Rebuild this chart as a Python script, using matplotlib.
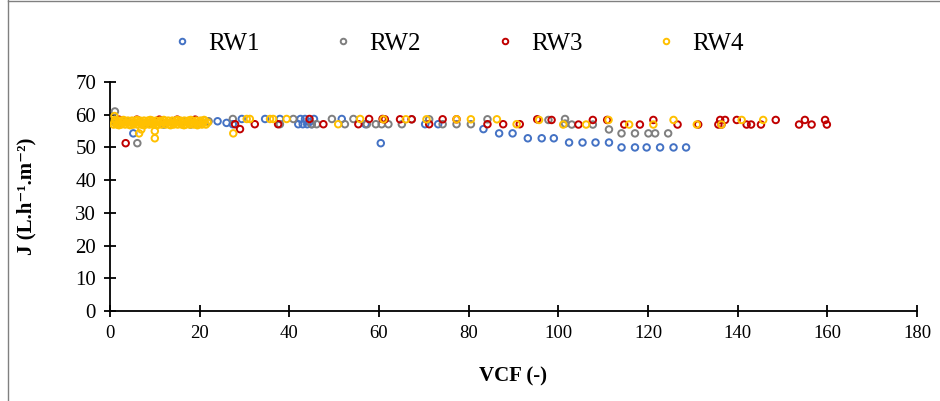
import numpy as np
import matplotlib.pyplot as plt
from matplotlib.lines import Line2D

plt.rcParams['font.family'] = ['Liberation Serif', 'DejaVu Serif']

# series data (VCF, J)
rw1_x = [1.2, 2.5, 4.0, 5.2, 8.0, 12.0, 16.0, 20.0, 24.0, 26.0, 27.4, 29.4, 34.6, 37.9,
         42.0, 42.5, 43.0, 43.5, 44.0, 44.5, 45.0, 45.5, 51.7, 57.0, 60.4, 70.3, 73.2,
         83.3, 86.8, 89.8, 93.2, 96.3, 99.0, 102.4, 105.4, 108.3, 111.3, 114.1, 117.1,
         119.7, 122.7, 125.7, 128.5]
rw1_y = [57.5, 57.5, 58.0, 54.3, 57.5, 57.0, 58.0, 57.5, 58.0, 57.5, 57.1, 58.7, 58.7, 58.7,
         57.1, 58.7, 57.1, 58.7, 57.1, 57.8, 57.1, 58.7, 58.7, 57.1, 51.3, 57.1, 57.1,
         55.6, 54.3, 54.3, 52.8, 52.8, 52.8, 51.5, 51.5, 51.5, 51.5, 50.0, 50.0,
         50.0, 50.0, 50.0, 50.0]

rw2_x = [1.1, 3.0, 6.1, 9.0, 14.0, 18.0, 22.0, 27.4, 37.9, 40.9, 45.0, 46.1, 49.5, 52.4,
         54.3, 57.3, 59.3, 60.6, 62.1, 65.1, 67.3, 71.2, 74.2, 77.3, 80.5, 84.2, 97.8,
         101.5, 101.5, 103.0, 107.7, 111.3, 114.1, 117.1, 120.1, 121.6, 124.5]
rw2_y = [61.0, 58.0, 51.3, 57.5, 58.0, 57.0, 58.0, 58.7, 57.1, 58.7, 57.1, 57.1, 58.7, 57.1,
         58.7, 57.1, 57.1, 57.1, 57.1, 57.1, 58.6, 58.6, 57.1, 57.1, 57.1, 58.6, 58.4,
         58.7, 57.3, 57.0, 57.0, 55.5, 54.3, 54.3, 54.3, 54.3, 54.3]

rw3_x = [3.5, 2.0, 6.0, 11.0, 15.0, 19.0, 27.9, 29.0, 32.3, 37.5, 44.5, 47.6, 55.4, 57.8,
         60.8, 61.3, 64.7, 67.3, 71.2, 74.2, 77.3, 84.2, 87.7, 91.4, 95.3, 98.5, 104.5,
         107.7, 110.9, 114.7, 118.2, 121.2, 126.6, 131.2, 135.7, 136.1, 136.4, 137.2,
         139.8, 142.0, 143.0, 145.2, 148.5, 153.7, 155.0, 156.5, 159.5, 159.9]
rw3_y = [51.3, 58.5, 58.5, 58.5, 58.5, 58.5, 57.1, 55.6, 57.1, 57.1, 58.7, 57.1, 57.1, 58.7,
         58.7, 58.6, 58.6, 58.6, 57.1, 58.6, 58.6, 57.1, 57.1, 57.1, 58.6, 58.4, 57.0,
         58.4, 58.4, 57.0, 57.0, 58.4, 57.0, 57.0, 57.0, 58.4, 57.0, 58.4,
         58.4, 57.0, 57.0, 57.0, 58.4, 57.0, 58.4, 57.0, 58.4, 57.0]

rw4_x = [0.8, 1.0, 1.3, 1.6, 1.9, 2.2, 2.5, 2.8, 3.1, 3.4, 3.7, 4.0, 4.3, 4.6, 4.9, 5.2,
         5.5, 5.8, 6.1, 6.4, 6.7, 7.0, 7.3, 7.6, 7.9, 8.2, 8.5, 8.8, 9.1, 9.4, 9.7, 10.0,
         10.3, 10.6, 10.9, 11.2, 11.5, 11.8, 12.1, 12.4, 12.7, 13.0, 13.3, 13.6, 13.9,
         14.2, 14.5, 14.8, 15.1, 15.4, 15.7, 16.0, 16.3, 16.6, 16.9, 17.2, 17.5, 17.8,
         18.1, 18.4, 18.7, 19.0, 19.3, 19.6, 19.9, 20.2, 20.5, 20.8, 21.1, 21.4, 21.8,
         1.1, 2.0, 3.0, 4.5, 6.0, 7.5, 9.0, 10.5, 12.0, 13.5, 15.0, 16.5, 18.0, 19.5, 21.0,
         1.0, 6.5, 7.0, 10.0, 10.0, 27.5, 30.5, 31.2, 35.7, 36.4, 39.4, 50.9, 55.8,
         61.0, 66.0, 70.6, 77.3, 80.5, 86.3, 90.7, 95.7, 101.1, 106.2, 111.2, 115.8,
         121.2, 125.7, 130.9, 136.4, 140.9, 145.7]
rw4_y = [57.0, 57.6, 58.2, 57.0, 57.6, 58.2, 57.0, 57.6, 58.2, 57.0, 57.6, 58.2, 57.0, 57.6,
         58.2, 57.0, 57.6, 58.2, 57.0, 57.6, 58.2, 57.0, 57.6, 58.2, 57.0, 57.6, 58.2, 57.0,
         57.6, 58.2, 57.0, 57.6, 58.2, 57.0, 57.6, 58.2, 57.0, 57.6, 58.2, 57.0, 57.6, 58.2,
         57.0, 57.6, 58.2, 57.0, 57.6, 58.2, 57.0, 57.6, 58.2, 57.0, 57.6, 58.2, 57.0, 57.6,
         58.2, 57.0, 57.6, 58.2, 57.0, 57.6, 58.2, 57.0, 57.6, 58.2, 57.0, 57.6, 58.2, 57.0,
         57.6,
         58.4, 56.8, 58.4, 56.8, 58.4, 56.8, 58.4, 56.8, 58.4, 56.8, 58.4, 56.8, 58.4, 56.8, 58.4,
         59.6, 54.3, 55.5, 55.0, 52.8, 54.3, 58.7, 58.7, 58.7, 58.7, 58.7, 57.1, 58.7,
         58.6, 58.6, 58.6, 58.6, 58.6, 58.6, 57.1, 58.4, 57.0, 57.0, 58.4, 57.0,
         57.0, 58.4, 57.0, 57.0, 58.4, 58.4]

names = ['RW1', 'RW2', 'RW3', 'RW4']
colors = ['#4472C4', '#7F7F7F', '#C00000', '#FFC000']

fig = plt.figure(figsize=(9.4, 4.01), dpi=100)
ax = fig.add_axes([0.117, 0.2244, 0.8585, 0.5711])

series = [(rw1_x, rw1_y), (rw2_x, rw2_y), (rw3_x, rw3_y), (rw4_x, rw4_y)]
for (xs, ys), c in zip(series, colors):
    ax.scatter(xs, ys, s=22, facecolors='none', edgecolors=c, linewidths=1.4, zorder=3)

ax.set_xlim(0, 180)
ax.set_ylim(0, 70)
ax.set_xticks(np.arange(0, 181, 20))
ax.set_yticks(np.arange(0, 71, 10))
ax.spines['top'].set_visible(False)
ax.spines['right'].set_visible(False)
ax.spines['left'].set_linewidth(1.3)
ax.spines['bottom'].set_linewidth(1.3)
ax.tick_params(direction='inout', length=8, width=1.3, pad=6)
ax.tick_params(axis='y', labelsize=15)
ax.tick_params(axis='x', labelsize=13.5)

ax.set_xlabel('VCF (-)', fontsize=15, fontweight='bold', labelpad=18)
ax.set_ylabel('J (L.h\u207b\u00b9.m\u207b\u00b2)', fontsize=15,
              fontweight='bold', labelpad=28)

handles = [Line2D([], [], marker='o', linestyle='none', markersize=4,
                  markerfacecolor='none', markeredgecolor=c, markeredgewidth=1.4)
           for c in colors]
fig.legend(handles, names, loc='upper center', bbox_to_anchor=(0.486, 0.975), ncol=4,
           frameon=False, fontsize=18, handlelength=1.0, columnspacing=2.85,
           handletextpad=0.55)

# thin outer frame lines (left and top)
fig.add_artist(Line2D([0.008, 0.008], [0.0, 1.0], color='#808080', lw=1))
fig.add_artist(Line2D([0.008, 1.0], [0.997, 0.997], color='#808080', lw=1))

fig.savefig('out.png', dpi=100)
